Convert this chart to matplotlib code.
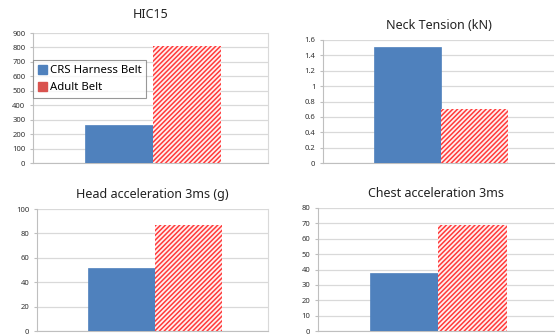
import matplotlib.pyplot as plt
from matplotlib.patches import Patch

plt.rcParams["font.family"] = ["Noto Sans", "DejaVu Sans"]
plt.rcParams["hatch.linewidth"] = 1.1

# data
titles = ["HIC15", "Neck Tension (kN)", "Head acceleration 3ms (g)", "Chest acceleration 3ms"]
series_names = ["CRS Harness Belt", "Adult Belt"]
crs_values = [265, 1.51, 52, 38]
adult_values = [810, 0.70, 87, 69]
y_max = [900, 1.6, 100, 80]
y_step = [100, 0.2, 20, 10]
tick_fmt = ["{:.0f}", "{:g}", "{:.0f}", "{:.0f}"]

BLUE = "#4f81bd"
RED = "#ff3b3b"
GRID = "#d9d9d9"

# axes rectangles in pixels: left, right, top, bottom
W, H = 556, 335
boxes = [(33, 268, 33, 163), (323, 554, 40, 163), (37, 268, 209, 331), (318, 554, 208, 331)]

fig = plt.figure(figsize=(W / 100, H / 100), dpi=100)

axes = []
for i, (l, r, t, b) in enumerate(boxes):
    ax = fig.add_axes([l / W, (H - b) / H, (r - l) / W, (b - t) / H])
    axes.append(ax)
    ax.bar(0.22, crs_values[i], width=0.29, align="edge", color=BLUE, edgecolor=BLUE,
           linewidth=0.5, zorder=3)
    ax.bar(0.51, adult_values[i], width=0.29, align="edge", color="#fff0f0", edgecolor=RED,
           hatch="///////", linewidth=0, zorder=3)
    ax.set_xlim(0, 1)
    ax.set_ylim(0, y_max[i])
    ticks = [k * y_step[i] for k in range(int(round(y_max[i] / y_step[i])) + 1)]
    ax.set_yticks(ticks)
    ax.set_yticklabels([tick_fmt[i].format(v) for v in ticks])
    ax.set_xticks([])
    ax.grid(True, axis="y", color=GRID, linewidth=0.9, zorder=0)
    ax.set_axisbelow(True)
    ax.spines["top"].set_visible(False)
    ax.spines["right"].set_visible(i in (0, 2))
    ax.spines["right"].set_color(GRID)
    ax.spines["left"].set_color("#bfbfbf")
    ax.spines["bottom"].set_color("#bfbfbf")
    ax.tick_params(axis="y", labelsize=5.5, length=2.5, color="#bfbfbf", pad=3,
                   labelcolor="#333333")
    ax.set_title(titles[i], fontsize=9, color="#222222", pad=8 if i != 0 else 11)

handles = [Patch(facecolor=BLUE, edgecolor=BLUE),
           Patch(facecolor="#d9534f", edgecolor="#d9534f")]
leg = axes[0].legend(handles, series_names, loc="upper left", bbox_to_anchor=(0.0, 0.79),
                     fontsize=8.2, frameon=True, fancybox=False, handlelength=0.8,
                     handleheight=0.8, handletextpad=0.3, borderpad=0.4, labelspacing=0.5,
                     borderaxespad=0)
leg.get_frame().set_edgecolor("#7f7f7f")
leg.get_frame().set_linewidth(0.8)
leg.set_zorder(5)

fig.savefig("out.png", dpi=100)
